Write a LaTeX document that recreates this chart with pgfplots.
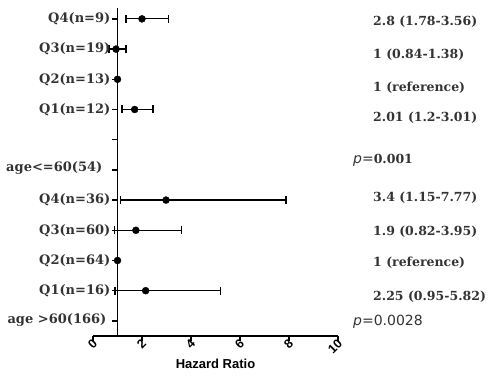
\documentclass[border=0pt]{standalone}
\usepackage{fontspec}
\setmainfont{Liberation Serif}
\setsansfont{Liberation Sans}
\newfontfamily\dvs{DejaVu Serif}
\newfontfamily\dvsans{DejaVu Sans}
\usepackage{pgfplots}
\pgfplotsset{compat=1.18}
\usepackage{pgfplotstable}
\definecolor{labgray}{HTML}{333333}

\pgfplotstableread{
y x ep em
11 2.00 1.07 0.65
10 0.94 0.41 0.29
8 1.70 0.75 0.52
5 2.98 4.90 1.85
4 1.75 1.87 0.88
2 2.15 3.05 1.25
}\ciData

\pgfplotstableread{
y x
9 1.0
3 1.0
}\refData

\begin{document}
\begin{tikzpicture}
\useasboundingbox (-93pt,-55pt) rectangle (411pt,336pt);
% main axis: data and x axis
\begin{axis}[
  at={(0,0)}, anchor=south west,
  scale only axis, width=245pt, height=328pt,
  xmin=0, xmax=10, ymin=0.5, ymax=11.36,
  axis x line=bottom, axis y line=none,
  axis line style={-, line width=1.6pt},
  xtick={0,2,4,6,8,10}, ytick=\empty,
  tick align=outside, major tick length=5pt,
  x tick style={line width=1.6pt, black},
  /pgf/number format/assume math mode=true,
  x tick label style={rotate=45, anchor=east, font=\sffamily\bfseries\fontsize{12.5}{14}\selectfont, inner sep=1pt, xshift=2pt, yshift=-2pt},
  xlabel={Hazard Ratio},
  xlabel style={font=\sffamily\bfseries\fontsize{13}{15}\selectfont, yshift=1pt},
  clip=false,
]
\addplot[only marks, mark=*, mark size=3.5pt, black, mark options={fill=black},
  error bars/.cd, x dir=both, x explicit, error mark=|,
  error bar style={line width=1.2pt, black},
  error mark options={mark size=4pt, line width=1.2pt, black}]
  table[x=x, y=y, x error plus=ep, x error minus=em]{\ciData};
\addplot[only marks, mark=*, mark size=3.5pt, black, mark options={fill=black}]
  table[x=x, y=y]{\refData};

\begin{scope}[every node/.style={anchor=west, text=labgray, font=\dvs\bfseries\fontsize{12.5}{15}\selectfont, inner sep=0pt}]
\node at (axis cs:11.43,10.90) {2.8 (1.78-3.56)};
\node at (axis cs:11.43,9.81) {1 (0.84-1.38)};
\node at (axis cs:11.43,8.72) {1 (reference)};
\node at (axis cs:11.43,7.72) {2.01 (1.2-3.01)};
\node at (axis cs:10.61,6.33) {{\dvsans\mdseries\fontsize{14}{16}\selectfont\itshape p}{\dvsans\mdseries\fontsize{14}{16}\selectfont =}0.001};
\node at (axis cs:11.43,5.07) {3.4 (1.15-7.77)};
\node at (axis cs:11.43,3.95) {1.9 (0.82-3.95)};
\node at (axis cs:11.43,2.92) {1 (reference)};
\node at (axis cs:11.43,1.79) {2.25 (0.95-5.82)};
\node at (axis cs:10.61,0.97) {\dvsans\mdseries\fontsize{14}{16}\selectfont{\itshape p}=0.0028};
\end{scope}
\end{axis}

% y axis at HR = 1
\begin{axis}[
  at={(24.5pt,0)}, anchor=south west,
  scale only axis, width=220.5pt, height=328pt,
  xmin=1, xmax=10, ymin=0.5, ymax=11.36,
  axis x line=none, axis y line=left,
  axis line style={-, line width=1.6pt},
  xtick=\empty,
  ytick={1,2,3,4,5,6,7,8,9,10,11},
  yticklabels={
    \raisebox{4pt}{age >60(166)\hspace{4pt}},
    Q1(n=16), Q2(n=64), Q3(n=60), Q4(n=36),
    \raisebox{6pt}{age<=60(54)\hspace{8pt}},
    {},
    Q1(n=12), Q2(n=13)\hspace{3pt}, Q3(n=19), Q4(n=9)\hspace{8pt}},
  tick align=outside, major tick length=5pt,
  y tick style={line width=1.3pt, black},
  y tick label style={font=\dvs\bfseries\fontsize{13}{15}\selectfont, text=labgray, inner sep=2pt},
]
\addplot[draw=none] coordinates {(1,1)};
\end{axis}
\end{tikzpicture}
\end{document}
